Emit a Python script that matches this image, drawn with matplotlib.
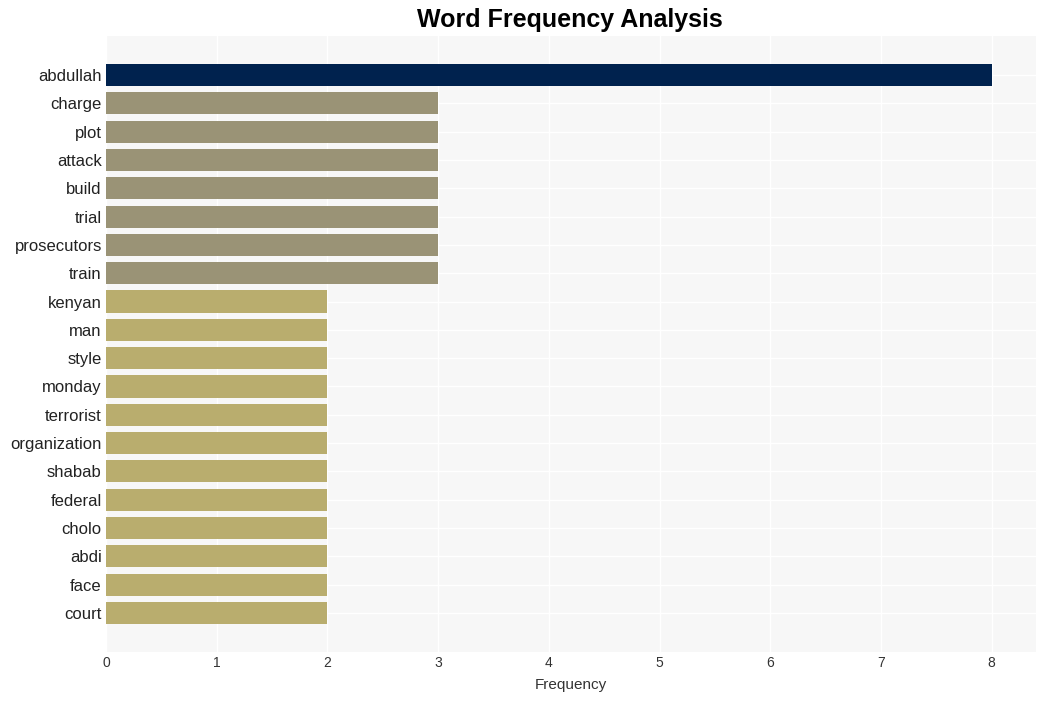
import matplotlib
matplotlib.use('Agg')
import matplotlib.pyplot as plt

plt.rcParams['font.family'] = ['Liberation Sans', 'DejaVu Sans']

# 단어 빈도 데이터
words = ['abdullah', 'charge', 'plot', 'attack', 'build', 'trial', 'prosecutors', 'train',
         'kenyan', 'man', 'style', 'monday', 'terrorist', 'organization', 'shabab',
         'federal', 'cholo', 'abdi', 'face', 'court']
counts = [8, 3, 3, 3, 3, 3, 3, 3, 2, 2, 2, 2, 2, 2, 2, 2, 2, 2, 2, 2]

def bar_color(c):
    if c >= 8:
        return '#00224E'
    if c == 3:
        return '#9A9376'
    return '#B9AD6E'

colors = [bar_color(c) for c in counts]

fig = plt.figure(figsize=(10.45, 7.01), dpi=100)
ax = fig.add_axes([106/1045, 1-652/701, 930/1045, 616/701])
ax.set_facecolor('#F7F7F7')

pos = list(range(len(words)))
ax.barh(pos, counts, height=0.78, color=colors, zorder=2)
ax.set_yticks(pos)
ax.set_yticklabels(words, fontsize=12, color='#222222')
ax.set_ylim(len(words) - 1 + 1.38, -1.38)
ax.set_xlim(0, 8.4)
ax.set_xticks(range(0, 9))
ax.tick_params(axis='x', labelsize=10, colors='#333333', length=0, pad=3)
ax.tick_params(axis='y', length=0, pad=3)
ax.grid(True, color='white', linewidth=1, zorder=1)
ax.set_axisbelow(True)
for s in ax.spines.values():
    s.set_visible(False)

ax.set_xlabel('Frequency', fontsize=11, color='#333333', labelpad=6)
fig.suptitle('Word Frequency Analysis', fontsize=18, fontweight='bold', y=0.988, x=570/1045)

fig.savefig('out.png', dpi=100)
